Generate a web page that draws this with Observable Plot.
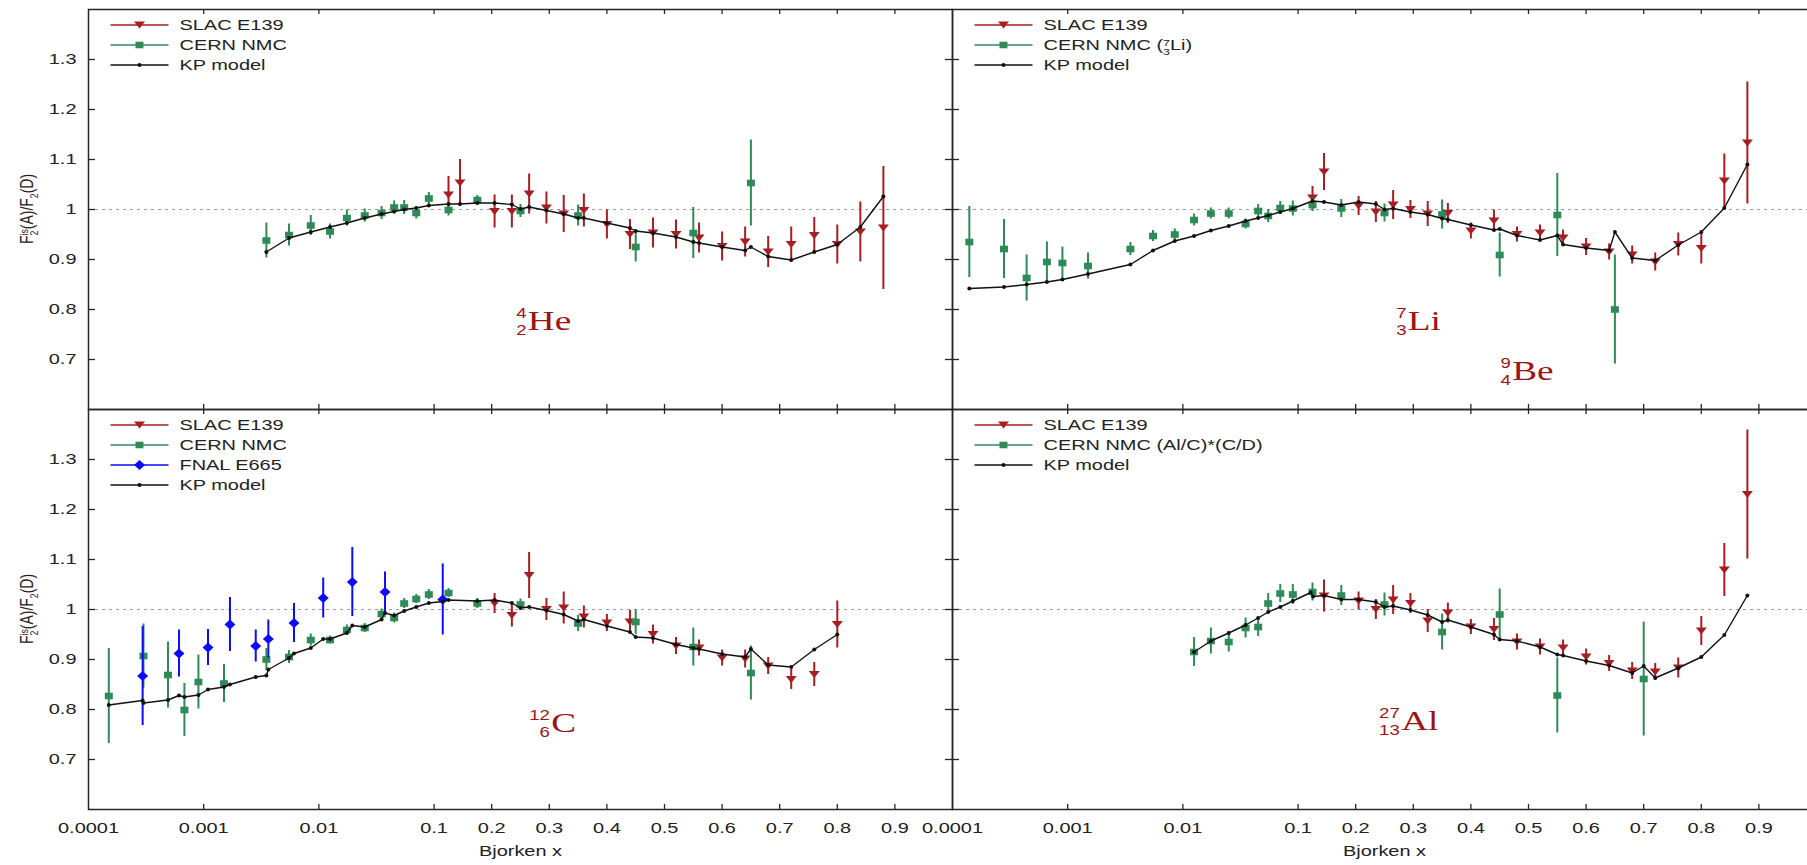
<!DOCTYPE html>
<html>
<head>
<meta charset="utf-8">
<script src="https://cdn.jsdelivr.net/npm/d3@7"></script>
<script src="https://cdn.jsdelivr.net/npm/@observablehq/plot@0.6"></script>
<style>
  html, body { margin: 0; padding: 0; background: #fff; }
  #fig { position: relative; width: 1807px; height: 865px; overflow: hidden; background: #fff; }
</style>
</head>
<body>
<div id="fig"></div>
<script>
// ---------- axis ticks ----------
const xTicks = [0.0001, 0.001, 0.01, 0.1, 0.2, 0.3, 0.4, 0.5, 0.6, 0.7, 0.8, 0.9];
const xTickLabels = ["0.0001", "0.001", "0.01", "0.1", "0.2", "0.3", "0.4", "0.5", "0.6", "0.7", "0.8", "0.9"];
const yTicks = [0.7, 0.8, 0.9, 1.0, 1.1, 1.2, 1.3];
const yTickLabels = ["0.7", "0.8", "0.9", "1", "1.1", "1.2", "1.3"];

// ---------- 4He ----------  [x, ratio, error]
const heSlac = [
  [0.125, 1.029, 0.037], [0.145, 1.053, 0.047], [0.205, 0.996, 0.033], [0.235, 0.996, 0.033],
  [0.265, 1.031, 0.040], [0.295, 1.003, 0.032], [0.325, 0.991, 0.037], [0.36, 0.998, 0.033],
  [0.40, 0.970, 0.029], [0.44, 0.950, 0.030], [0.48, 0.953, 0.030], [0.52, 0.950, 0.029],
  [0.56, 0.943, 0.030], [0.60, 0.926, 0.029], [0.64, 0.935, 0.030], [0.68, 0.915, 0.031],
  [0.72, 0.930, 0.035], [0.76, 0.948, 0.036], [0.80, 0.930, 0.039], [0.84, 0.955, 0.060],
  [0.88, 0.963, 0.123]
];
const heNmc = [
  [0.0035, 0.938, 0.035], [0.0055, 0.949, 0.022], [0.0085, 0.968, 0.020], [0.0125, 0.956, 0.015],
  [0.0175, 0.983, 0.016], [0.025, 0.988, 0.013], [0.035, 0.993, 0.013], [0.045, 1.004, 0.013],
  [0.055, 1.004, 0.014], [0.07, 0.993, 0.012], [0.09, 1.022, 0.012], [0.125, 0.999, 0.012],
  [0.175, 1.019, 0.009], [0.25, 0.997, 0.013], [0.35, 0.988, 0.021], [0.45, 0.925, 0.030],
  [0.55, 0.953, 0.051], [0.65, 1.053, 0.086]
];
const heKp = [
  [0.0035, 0.915], [0.0055, 0.943], [0.0085, 0.955], [0.0125, 0.965], [0.0175, 0.973], [0.025, 0.983],
  [0.035, 0.991], [0.045, 0.996], [0.055, 1.000], [0.07, 1.003], [0.09, 1.008], [0.125, 1.011],
  [0.145, 1.011], [0.175, 1.013], [0.205, 1.013], [0.235, 1.010], [0.25, 1.001], [0.265, 1.005],
  [0.295, 0.998], [0.325, 0.991], [0.35, 0.983], [0.36, 0.983], [0.40, 0.973], [0.44, 0.963],
  [0.45, 0.957], [0.48, 0.953], [0.52, 0.945], [0.55, 0.935], [0.56, 0.933], [0.60, 0.925],
  [0.64, 0.918], [0.65, 0.925], [0.68, 0.906], [0.72, 0.899], [0.76, 0.915], [0.80, 0.930],
  [0.84, 0.965], [0.88, 1.026]
];

// ---------- 7Li (NMC) / 9Be (SLAC) ----------
const beSlac = [
  [0.125, 1.023, 0.023], [0.145, 1.075, 0.037], [0.205, 1.007, 0.019], [0.235, 0.995, 0.021],
  [0.265, 1.009, 0.029], [0.295, 1.000, 0.018], [0.325, 0.991, 0.025], [0.36, 0.992, 0.020],
  [0.40, 0.957, 0.016], [0.44, 0.977, 0.022], [0.48, 0.950, 0.015], [0.52, 0.953, 0.016],
  [0.56, 0.943, 0.016], [0.60, 0.925, 0.017], [0.64, 0.915, 0.016], [0.68, 0.909, 0.018],
  [0.72, 0.895, 0.018], [0.76, 0.930, 0.023], [0.80, 0.922, 0.031], [0.84, 1.057, 0.054],
  [0.88, 1.133, 0.122]
];
const liNmc = [
  [0.00014, 0.935, 0.071], [0.00028, 0.921, 0.059], [0.00044, 0.863, 0.046], [0.00066, 0.895, 0.040],
  [0.0009, 0.893, 0.032], [0.0015, 0.887, 0.026], [0.0035, 0.921, 0.013], [0.0055, 0.947, 0.011],
  [0.0085, 0.950, 0.011], [0.0125, 0.979, 0.012], [0.0175, 0.992, 0.011], [0.025, 0.992, 0.011],
  [0.035, 0.971, 0.010], [0.045, 0.997, 0.013], [0.055, 0.987, 0.013], [0.07, 1.003, 0.013],
  [0.09, 1.002, 0.015], [0.125, 1.009, 0.013], [0.175, 1.002, 0.018], [0.25, 0.993, 0.018],
  [0.35, 0.990, 0.029], [0.45, 0.909, 0.044], [0.55, 0.989, 0.083], [0.65, 0.800, 0.109]
];
const liKp = [
  [0.00014, 0.842], [0.00028, 0.845], [0.00044, 0.850], [0.00066, 0.855], [0.0009, 0.860],
  [0.0015, 0.871], [0.0035, 0.890], [0.0055, 0.918], [0.0085, 0.937], [0.0125, 0.947],
  [0.0175, 0.958], [0.025, 0.967], [0.035, 0.977], [0.045, 0.983], [0.055, 0.988], [0.07, 0.995],
  [0.09, 1.002], [0.125, 1.017], [0.145, 1.015], [0.175, 1.009], [0.205, 1.015], [0.235, 1.011],
  [0.25, 1.000], [0.265, 1.002], [0.295, 0.995], [0.325, 0.990], [0.35, 0.982], [0.36, 0.980],
  [0.40, 0.969], [0.44, 0.959], [0.45, 0.961], [0.48, 0.948], [0.52, 0.939], [0.55, 0.948],
  [0.56, 0.930], [0.60, 0.923], [0.64, 0.918], [0.65, 0.955], [0.68, 0.903], [0.72, 0.898],
  [0.76, 0.929], [0.80, 0.955], [0.84, 1.003], [0.88, 1.090]
];

// ---------- 12C ----------
const cSlac = [
  [0.205, 1.012, 0.020], [0.235, 0.988, 0.023], [0.265, 1.068, 0.046], [0.295, 1.000, 0.022],
  [0.325, 1.003, 0.032], [0.36, 0.985, 0.022], [0.40, 0.973, 0.017], [0.44, 0.975, 0.023],
  [0.48, 0.950, 0.019], [0.52, 0.927, 0.017], [0.56, 0.923, 0.016], [0.60, 0.903, 0.016],
  [0.64, 0.901, 0.018], [0.68, 0.887, 0.017], [0.72, 0.860, 0.020], [0.76, 0.870, 0.024],
  [0.80, 0.970, 0.047]
];
const cNmc = [
  [0.00015, 0.827, 0.095], [0.0003, 0.907, 0.064], [0.00049, 0.869, 0.066], [0.00068, 0.799, 0.053],
  [0.0009, 0.855, 0.054], [0.0015, 0.852, 0.038], [0.0035, 0.900, 0.022], [0.0055, 0.905, 0.013],
  [0.0085, 0.939, 0.012], [0.0125, 0.939, 0.008], [0.0175, 0.959, 0.010], [0.025, 0.963, 0.009],
  [0.035, 0.991, 0.010], [0.045, 0.983, 0.010], [0.055, 1.012, 0.010], [0.07, 1.021, 0.009],
  [0.09, 1.030, 0.010], [0.125, 1.033, 0.009], [0.175, 1.012, 0.010], [0.25, 1.010, 0.011],
  [0.35, 0.972, 0.016], [0.45, 0.975, 0.025], [0.55, 0.925, 0.038], [0.65, 0.873, 0.054]
];
const cE665 = [
  [0.000295, 0.867, 0.099], [0.00061, 0.912, 0.047], [0.00109, 0.924, 0.036], [0.00169, 0.970, 0.054],
  [0.00283, 0.927, 0.032], [0.00364, 0.941, 0.038], [0.00608, 0.973, 0.039], [0.0109, 1.023, 0.040],
  [0.0195, 1.055, 0.069], [0.0375, 1.035, 0.040], [0.115, 1.020, 0.071]
];
const cKp = [
  [0.00015, 0.809], [0.000295, 0.818], [0.0003, 0.813], [0.00049, 0.819], [0.00061, 0.828],
  [0.00068, 0.825], [0.0009, 0.829], [0.00109, 0.840], [0.0015, 0.845], [0.00169, 0.850],
  [0.00283, 0.865], [0.0035, 0.868], [0.00364, 0.880], [0.0055, 0.903], [0.00608, 0.912],
  [0.0085, 0.923], [0.0109, 0.941], [0.0125, 0.941], [0.0175, 0.953], [0.0195, 0.968],
  [0.025, 0.965], [0.035, 0.980], [0.0375, 0.993], [0.045, 0.988], [0.055, 0.997], [0.07, 1.005],
  [0.09, 1.013], [0.115, 1.016], [0.125, 1.019], [0.175, 1.017], [0.205, 1.019], [0.235, 1.013],
  [0.25, 1.003], [0.265, 1.005], [0.295, 0.998], [0.325, 0.990], [0.35, 0.977], [0.36, 0.980],
  [0.40, 0.967], [0.44, 0.955], [0.45, 0.945], [0.48, 0.943], [0.52, 0.930], [0.55, 0.923],
  [0.56, 0.921], [0.60, 0.911], [0.64, 0.905], [0.65, 0.921], [0.68, 0.889], [0.72, 0.885],
  [0.76, 0.920], [0.80, 0.950]
];

// ---------- 27Al ----------
const alSlac = [
  [0.145, 1.027, 0.032], [0.205, 1.017, 0.018], [0.235, 1.000, 0.020], [0.265, 1.019, 0.029],
  [0.295, 1.012, 0.020], [0.325, 0.977, 0.023], [0.36, 0.993, 0.020], [0.40, 0.965, 0.015],
  [0.44, 0.960, 0.022], [0.48, 0.935, 0.016], [0.52, 0.925, 0.016], [0.56, 0.923, 0.016],
  [0.60, 0.905, 0.016], [0.64, 0.892, 0.016], [0.68, 0.877, 0.017], [0.72, 0.875, 0.017],
  [0.76, 0.883, 0.020], [0.80, 0.957, 0.029], [0.84, 1.079, 0.053], [0.88, 1.230, 0.129]
];
const alNmc = [
  [0.0125, 0.915, 0.029], [0.0175, 0.937, 0.026], [0.025, 0.935, 0.020], [0.035, 0.963, 0.020],
  [0.045, 0.965, 0.019], [0.055, 1.012, 0.020], [0.07, 1.032, 0.018], [0.09, 1.030, 0.020],
  [0.125, 1.035, 0.018], [0.175, 1.028, 0.020], [0.25, 1.010, 0.023], [0.35, 0.955, 0.036],
  [0.45, 0.990, 0.051], [0.55, 0.828, 0.075], [0.70, 0.861, 0.114]
];
const alKp = [
  [0.0125, 0.915], [0.0175, 0.937], [0.025, 0.953], [0.035, 0.969], [0.045, 0.983], [0.055, 0.995],
  [0.07, 1.005], [0.09, 1.017], [0.122, 1.034], [0.126, 1.026], [0.145, 1.028], [0.175, 1.020],
  [0.205, 1.020], [0.235, 1.015], [0.25, 1.005], [0.265, 1.007], [0.295, 0.999], [0.325, 0.989],
  [0.35, 0.975], [0.36, 0.979], [0.40, 0.965], [0.44, 0.950], [0.45, 0.940], [0.48, 0.937],
  [0.52, 0.925], [0.55, 0.910], [0.56, 0.908], [0.60, 0.897], [0.64, 0.888], [0.68, 0.873],
  [0.70, 0.887], [0.72, 0.863], [0.76, 0.883], [0.80, 0.905], [0.84, 0.949], [0.88, 1.028]
];

// ---------- styling ----------
const RED = "#a71d22", GREEN = "#2e8b57", BLUE = "#0b0bff", KP = "#111111";
const FRAME = "#262626", TEXT = "#222222", NUC = "#9c1515";
const SANS = "'Liberation Sans', Arial, Helvetica, sans-serif";
const SERIF = "'Liberation Serif', 'Times New Roman', serif";
const STRETCH = 1.33;   // wide lettering used throughout the figure

// Bjorken-x axis: logarithmic below x = 0.1, linear above (0.1 in x = half a decade)
const tx = x => x < 0.1 ? Math.log10(x) + 4 : 3 + (x - 0.1) * 5;
const xLabelOf = new Map(xTicks.map((t, i) => [tx(t), xTickLabels[i]]));
const yLabelOf = new Map(yTicks.map((t, i) => [t, yTickLabels[i]]));

// marker shapes
const triDown = { draw(c) { c.moveTo(-5.5, -3.5); c.lineTo(5.5, -3.5); c.lineTo(0, 3.5); c.closePath(); } };
const squareM = { draw(c) { c.moveTo(-4, -3.3); c.lineTo(4, -3.3); c.lineTo(4, 3.3); c.lineTo(-4, 3.3); c.closePath(); } };
const diamondM = { draw(c) { c.moveTo(0, -5); c.lineTo(5.5, 0); c.lineTo(0, 5); c.lineTo(-5.5, 0); c.closePath(); } };
const dotM = { draw(c) { c.moveTo(2, 0); c.arc(0, 0, 2, 0, 2 * Math.PI); c.closePath(); } };
const pathOf = s => { const p = d3.path(); s.draw(p, 0); return p.toString(); };

const SLAC = { name: "SLAC E139", color: RED, symbol: triDown };
const NMC = { color: GREEN, symbol: squareM };
const E665 = { name: "FNAL E665", color: BLUE, symbol: diamondM };
const KPM = { name: "KP model", color: KP, symbol: dotM };

const FULL_W = 1816, FULL_H = 865, PW = 864, PH = 400;
const colX = [88, 952], rowY = [9, 409];

const panels = [
  { col: 0, row: 0,
    series: [{ ...SLAC, data: heSlac }, { ...NMC, data: heNmc }], kp: heKp,
    legend: [[SLAC, ["SLAC E139"]], [NMC, ["CERN NMC"]], [KPM, ["KP model"]]],
    nuclides: [{ x: 0.2636, y: 0.758, A: "4", Z: "2", sym: "He" }] },
  { col: 1, row: 0,
    series: [{ ...SLAC, data: beSlac }, { ...NMC, data: liNmc }], kp: liKp,
    legend: [[SLAC, ["SLAC E139"]], [NMC, ["CERN NMC (", { sup: "7", sub: "3" }, "Li)"]], [KPM, ["KP model"]]],
    nuclides: [{ x: 0.2914, y: 0.758, A: "7", Z: "3", sym: "Li" },
               { x: 0.4726, y: 0.659, A: "9", Z: "4", sym: "Be" }] },
  { col: 0, row: 1,
    series: [{ ...SLAC, data: cSlac }, { ...NMC, data: cNmc }, { ...E665, data: cE665 }], kp: cKp,
    legend: [[SLAC, ["SLAC E139"]], [NMC, ["CERN NMC"]], [E665, ["FNAL E665"]], [KPM, ["KP model"]]],
    nuclides: [{ x: 0.3042, y: 0.7547, A: "12", Z: "6", sym: "C" }] },
  { col: 1, row: 1,
    series: [{ ...SLAC, data: alSlac }, { ...NMC, data: alNmc }], kp: alKp,
    legend: [[SLAC, ["SLAC E139"]], [NMC, ["CERN NMC (Al/C)*(C/D)"]], [KPM, ["KP model"]]],
    nuclides: [{ x: 0.2798, y: 0.758, A: "27", Z: "13", sym: "Al" }] }
];

// Text with stacked super/subscripts built from tspans
function rich(text, parts, size) {
  const small = size * 0.62, up = size * 0.3, down = size * 0.3;
  let pendingDy = 0, pendingDx = 0;
  for (const p of parts) {
    if (typeof p === "string") {
      const t = text.append("tspan").text(p);
      if (pendingDy) t.attr("dy", pendingDy);
      if (pendingDx) t.attr("dx", pendingDx);
      pendingDy = 0; pendingDx = 0;
    } else {
      if (p.sup) {
        const s = text.append("tspan").attr("font-size", small).attr("dy", pendingDy - up).text(p.sup);
        const supW = s.node().getComputedTextLength();
        const b = text.append("tspan").attr("font-size", small).attr("dx", -supW).attr("dy", up + down).text(p.sub);
        const subW = b.node().getComputedTextLength();
        pendingDx = Math.max(0, supW - subW);
      } else {
        text.append("tspan").attr("font-size", small).attr("dy", pendingDy + down).text(p.sub);
      }
      pendingDy = -down;
    }
  }
}

const fig = document.getElementById("fig");

for (const P of panels) {
  const left = colX[P.col], top = rowY[P.row];
  const X = d => tx(d[0]);
  const innerTicks = xTicks.slice(1);
  const marks = [
    Plot.ruleY([1], { stroke: "#9a9a9a", strokeWidth: 1, strokeDasharray: "3,4" }),
    Plot.tickX(innerTicks, { x: tx, insetBottom: PH - 5, stroke: FRAME, strokeWidth: 1.3 }),
    Plot.tickX(innerTicks, { x: tx, insetTop: PH - 5, stroke: FRAME, strokeWidth: 1.3 }),
    Plot.tickY(yTicks, { y: d => d, insetRight: PW - 7, stroke: FRAME, strokeWidth: 1.3 }),
    Plot.tickY(yTicks, { y: d => d, insetLeft: PW - 7, stroke: FRAME, strokeWidth: 1.3 })
  ];
  for (const s of P.series) {
    marks.push(Plot.ruleX(s.data, { x: X, y1: d => d[1] - d[2], y2: d => d[1] + d[2], stroke: s.color, strokeWidth: 2 }));
    marks.push(Plot.dot(s.data, { x: X, y: d => d[1], symbol: s.symbol, r: 4, fill: s.color, stroke: "none" }));
  }
  marks.push(Plot.line(P.kp, { x: X, y: d => d[1], stroke: KP, strokeWidth: 1.4 }));
  marks.push(Plot.dot(P.kp, { x: X, y: d => d[1], r: 2, fill: KP, stroke: "none" }));
  if (P.row === 1) {
    marks.push(Plot.axisX(xTicks.map(tx), { anchor: "bottom", tickSize: 0, tickPadding: 13, fontSize: 15,
      tickFormat: v => xLabelOf.get(v), label: null }));
    marks.push(Plot.text(["Bjorken x"], { frameAnchor: "bottom", dy: 46, fontSize: 15, text: d => d }));
  }
  if (P.col === 0) {
    marks.push(Plot.axisY(yTicks, { anchor: "left", tickSize: 0, tickPadding: 12, fontSize: 15,
      tickFormat: v => yLabelOf.get(v), label: null }));
  }
  marks.push(Plot.frame({ stroke: FRAME, strokeWidth: 1.5 }));

  const svg = Plot.plot({
    width: FULL_W, height: FULL_H,
    marginLeft: left, marginRight: FULL_W - left - PW,
    marginTop: top, marginBottom: FULL_H - top - PH,
    x: { domain: [0, 7.5], axis: null },
    y: { domain: [0.6, 1.4], axis: null },
    style: `position:absolute;left:0;top:0;max-width:none;background:transparent;overflow:visible;font-family:${SANS};color:${TEXT};`,
    marks
  });
  fig.appendChild(svg);

  // widen the axis lettering around each label's anchor point
  svg.querySelectorAll("text").forEach(t => {
    const tr = t.getAttribute("transform");
    if (tr) t.setAttribute("transform", `${tr} scale(${STRETCH},1)`);
  });

  const root = d3.select(svg);
  const sx = svg.scale("x"), sy = svg.scale("y");

  // legend
  const lg = root.append("g").attr("font-family", SANS).attr("font-size", 15).attr("fill", TEXT)
    .attr("text-anchor", "start");
  P.legend.forEach(([s, label], i) => {
    const y = top + 16 + 20 * i;
    lg.append("line").attr("x1", left + 22.5).attr("x2", left + 80.5).attr("y1", y).attr("y2", y)
      .attr("stroke", s.color).attr("stroke-width", 1.3);
    lg.append("path").attr("d", pathOf(s.symbol)).attr("transform", `translate(${left + 51.5},${y})`).attr("fill", s.color);
    const t = lg.append("text").attr("text-anchor", "start")
      .attr("transform", `translate(${left + 91.5},${y}) scale(${STRETCH},1)`).attr("dy", "0.36em");
    rich(t, label, 15);
  });

  // nucleus labels
  for (const n of P.nuclides) {
    const px = sx.apply(tx(n.x)), py = sy.apply(n.y);
    const g = root.append("g").attr("fill", NUC).attr("transform", `translate(${px},${py}) scale(${STRETCH},1)`);
    g.append("text").attr("font-family", SERIF).attr("font-size", 28).attr("text-anchor", "start").text(n.sym);
    g.append("text").attr("font-family", SANS).attr("font-size", 14).attr("text-anchor", "end")
      .attr("x", -1).attr("y", -12).text(n.A);
    g.append("text").attr("font-family", SANS).attr("font-size", 14).attr("text-anchor", "end")
      .attr("x", -1).attr("y", 5).text(n.Z);
  }

  // y-axis title
  if (P.col === 0) {
    const t = root.append("text").attr("font-family", SANS).attr("font-size", 14).attr("fill", TEXT)
      .attr("text-anchor", "middle")
      .attr("transform", `translate(33,${top + PH / 2}) rotate(-90) scale(1,1.3)`);
    rich(t, ["F", { sup: "is", sub: "2" }, "(A)/F", { sub: "2" }, "(D)"], 14);
  }
}
</script>
</body>
</html>
